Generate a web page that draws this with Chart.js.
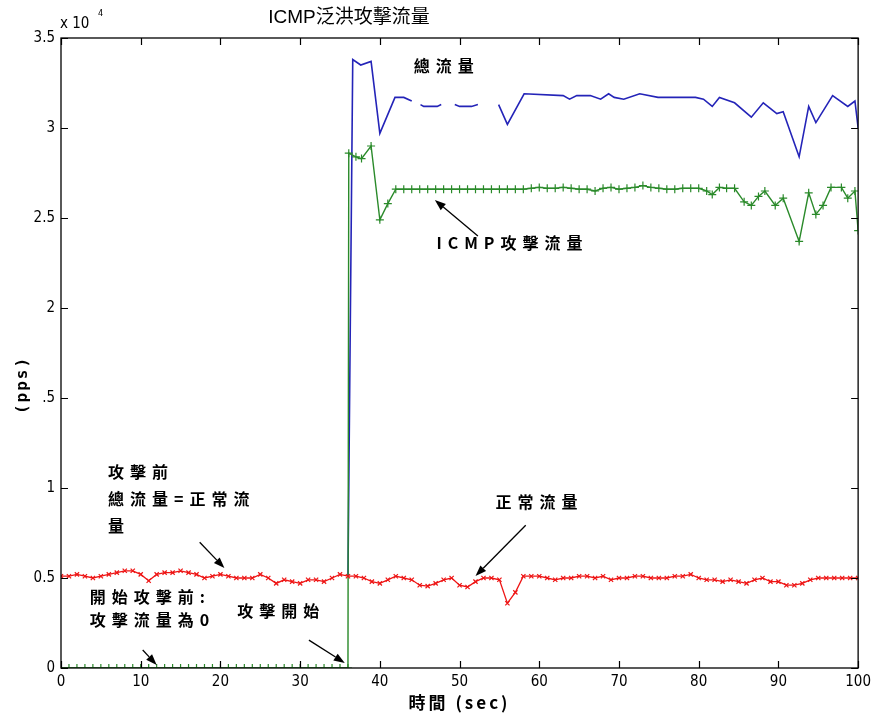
<!DOCTYPE html>
<html><head><meta charset="utf-8">
<script src="https://cdn.jsdelivr.net/npm/chart.js@4.4.1/dist/chart.umd.min.js"></script>
<style>html,body{margin:0;padding:0;background:#fff}#wrap{width:876px;height:716px}</style>
</head><body><div id="wrap"><canvas id="c" width="876" height="716"></canvas></div>
<script>
// ---- texts ----
const chartTitle = 'ICMP泛洪攻擊流量';
const xTitle = '時間 (sec)';
const yTitle = '(pps)';
const yExponent = ['x 10', '4'];

// ---- ticks ----
const xTickValues = [0,10,20,30,40,50,60,70,80,90,100];
const yTickValues = [0,0.5,1,1.5,2,2.5,3,3.5];
const yTickLabels = ['0','0.5','1','1.5','2','2.5','3','3.5'];

// ---- series (values in units of 10^4 pps) ----
// 正常流量 (normal traffic)
const normalT = [0,1,2,3,4,5,6,7,8,9,10,11,12,13,14,15,16,17,18,19,20,21,22,23,24,25,26,27,28,29,30,31,32,33,34,35,36,37,38,39,40,41,42,43,44,45,46,47,48,49,50,51,52,53,54,55,56,57,58,59,60,61,62,63,64,65,66,67,68,69,70,71,72,73,74,75,76,77,78,79,80,81,82,83,84,85,86,87,88,89,90,91,92,93,94,95,96,97,98,99,100];
const normalV = [0.51,0.51,0.52,0.51,0.50,0.51,0.52,0.53,0.54,0.54,0.52,0.485,0.52,0.53,0.53,0.54,0.53,0.52,0.50,0.51,0.52,0.51,0.50,0.50,0.50,0.52,0.50,0.47,0.49,0.48,0.47,0.49,0.49,0.48,0.50,0.52,0.51,0.51,0.50,0.48,0.47,0.49,0.51,0.50,0.49,0.46,0.455,0.47,0.49,0.50,0.46,0.45,0.48,0.50,0.50,0.49,0.36,0.42,0.51,0.51,0.51,0.50,0.49,0.50,0.50,0.51,0.51,0.50,0.51,0.49,0.50,0.50,0.51,0.51,0.50,0.50,0.50,0.51,0.51,0.52,0.50,0.49,0.49,0.48,0.49,0.48,0.47,0.49,0.50,0.48,0.48,0.46,0.46,0.47,0.49,0.50,0.50,0.50,0.50,0.50,0.50];

// ICMP攻擊流量 (attack traffic)
const attackT = [0,1,2,3,4,5,6,7,8,9,10,11,12,13,14,15,16,17,18,19,20,21,22,23,24,25,26,27,28,29,30,31,32,33,34,35,36,36.1,37,37.7,38.9,40,41,42,43,44,45,46,47,48,49,50,51,52,53,54,55,56,57,58,59,60,61,62,63,64,65,66,67,68,69,70,71,72,73,74,75,76,77,78,79,80,81,81.7,82.6,83.5,84.5,85.7,86.6,87.5,88.3,89.6,90.6,92.6,93.8,94.7,95.6,96.6,97.9,98.7,99.6,100];
const attackV = [0,0,0,0,0,0,0,0,0,0,0,0,0,0,0,0,0,0,0,0,0,0,0,0,0,0,0,0,0,0,0,0,0,0,0,0,0,2.86,2.84,2.83,2.90,2.49,2.58,2.66,2.66,2.66,2.66,2.66,2.66,2.66,2.66,2.66,2.66,2.66,2.66,2.66,2.66,2.66,2.66,2.66,2.665,2.67,2.665,2.665,2.67,2.665,2.66,2.66,2.65,2.665,2.67,2.66,2.665,2.67,2.68,2.67,2.665,2.66,2.66,2.665,2.665,2.665,2.65,2.63,2.67,2.665,2.665,2.59,2.57,2.62,2.65,2.57,2.61,2.37,2.64,2.52,2.57,2.67,2.67,2.61,2.65,2.43];

// 總流量 (total traffic) – null marks gaps in the trace
const totalT = [36,36.6,37.6,38.9,40,41.9,43,44,44.5,45.1,45.5,47.2,47.7,48.5,49.4,50,51.5,52.3,53.5,54.9,56,58.1,63,63.8,64.7,66.4,67.7,68.7,69.4,70.6,72.6,74.9,79.6,80.6,81.7,82.6,84.5,86.6,88.1,89.8,90.6,92.6,93.8,94.7,96.8,98.7,99.6,100];
const totalV = [0.51,3.38,3.35,3.37,2.97,3.17,3.17,3.15,null,3.13,3.12,3.12,3.13,null,3.13,3.12,3.12,3.13,null,3.13,3.02,3.19,3.18,3.16,3.18,3.18,3.16,3.19,3.17,3.16,3.19,3.17,3.17,3.16,3.12,3.17,3.14,3.06,3.14,3.08,3.09,2.84,3.12,3.03,3.18,3.12,3.15,3.0];

// ---- annotations (data coordinates) ----
const noteTexts = ['總流量','ICMP攻擊流量','攻擊前','總流量=正常流','量','開始攻擊前:','攻擊流量為0','攻擊開始','正常流量'];
const noteX = [44.25,47.1,5.9,5.9,5.9,3.6,3.6,22.1,54.5];
const noteY = [3.345,2.36,1.087,0.937,0.788,0.394,0.266,0.316,0.92];
// arrows: tail -> head
const arrowFromX = [52.3,17.4,10.25,31.1,58.3];
const arrowFromY = [2.40,0.699,0.10,0.155,0.793];
const arrowToX   = [46.9,20.5,12.0,35.6,52.0];
const arrowToY   = [2.60,0.555,0.017,0.028,0.511];

const RED = '#ee1515', GREEN = '#2a8a2a', BLUE = '#2424b8';
const tickFont = {family:"'Liberation Sans Narrow','DejaVu Sans Condensed',sans-serif", size:15};

function pts(xs, ys){ return xs.map((x,i)=>({x:x, y:ys[i]})); }

const overlay = {
  id:'overlay',
  afterDraw(chart){
    const ctx = chart.ctx, a = chart.chartArea, xs = chart.scales.x, ys = chart.scales.y;
    ctx.save();
    // box
    ctx.strokeStyle = '#000'; ctx.lineWidth = 1.3;
    ctx.strokeRect(a.left, a.top, a.right-a.left, a.bottom-a.top);
    // inward ticks
    ctx.beginPath();
    xTickValues.forEach(v=>{
      const px = Math.round(xs.getPixelForValue(v))+0.5;
      ctx.moveTo(px, a.bottom); ctx.lineTo(px, a.bottom-7);
      ctx.moveTo(px, a.top); ctx.lineTo(px, a.top+7);
    });
    yTickValues.forEach(v=>{
      const py = Math.round(ys.getPixelForValue(v))+0.5;
      ctx.moveTo(a.left, py); ctx.lineTo(a.left+7, py);
      ctx.moveTo(a.right, py); ctx.lineTo(a.right-7, py);
    });
    ctx.lineWidth = 1.2; ctx.stroke();

    ctx.fillStyle = '#000';
    // title
    ctx.font = "19px 'Liberation Sans','Noto Sans CJK TC',sans-serif";
    ctx.textAlign = 'center'; ctx.textBaseline = 'middle';
    ctx.fillText(chartTitle, 349, 18);
    // exponent
    ctx.textAlign = 'left';
    ctx.font = "15px 'Liberation Sans Narrow','DejaVu Sans Condensed',sans-serif";
    ctx.fillText(yExponent[0], 60, 24);
    ctx.font = "9px 'Liberation Sans Narrow','DejaVu Sans Condensed',sans-serif";
    ctx.fillText(yExponent[1], 98, 14);
    // x title
    ctx.font = "bold 17px 'Noto Sans CJK TC',sans-serif";
    ctx.textAlign = 'center';
    try { ctx.letterSpacing = '3px'; } catch(e){}
    ctx.fillText(xTitle, (a.left+a.right)/2, 703);
    // y title with white patch
    ctx.fillStyle = '#fff';
    ctx.fillRect(6, 352, 37, 64);
    ctx.fillStyle = '#000';
    ctx.save();
    ctx.translate(23, 385); ctx.rotate(-Math.PI/2);
    ctx.font = "bold 16px 'DejaVu Sans Mono',monospace";
    try { ctx.letterSpacing = '2px'; } catch(e){}
    ctx.textAlign = 'center'; ctx.textBaseline = 'middle';
    ctx.fillText(yTitle, 0, 0);
    ctx.restore();
    // notes
    ctx.font = "bold 16px 'Noto Sans CJK TC',sans-serif";
    ctx.textAlign = 'left'; ctx.textBaseline = 'middle';
    try { ctx.letterSpacing = '6px'; } catch(e){}
    noteTexts.forEach((t,i)=>{
      ctx.fillText(t, xs.getPixelForValue(noteX[i]), ys.getPixelForValue(noteY[i]));
    });
    try { ctx.letterSpacing = '0px'; } catch(e){}
    // arrows
    ctx.strokeStyle = '#000'; ctx.lineWidth = 1.3;
    arrowFromX.forEach((fx,i)=>{
      const x1 = xs.getPixelForValue(fx), y1 = ys.getPixelForValue(arrowFromY[i]);
      const x2 = xs.getPixelForValue(arrowToX[i]), y2 = ys.getPixelForValue(arrowToY[i]);
      const ang = Math.atan2(y2-y1, x2-x1), L = 11, W = 4;
      const bx = x2 - L*Math.cos(ang), by = y2 - L*Math.sin(ang);
      ctx.beginPath(); ctx.moveTo(x1,y1); ctx.lineTo(bx,by); ctx.stroke();
      ctx.beginPath();
      ctx.moveTo(x2,y2);
      ctx.lineTo(bx + W*Math.sin(ang), by - W*Math.cos(ang));
      ctx.lineTo(bx - W*Math.sin(ang), by + W*Math.cos(ang));
      ctx.closePath(); ctx.fill();
    });
    ctx.restore();
  }
};

new Chart(document.getElementById('c'), {
  type:'line',
  data:{ datasets:[
    {label:'正常流量', data:pts(normalT, normalV), borderColor:RED, backgroundColor:RED, borderWidth:1.3,
     pointStyle:'crossRot', pointRadius:3, pointBorderColor:RED, pointBorderWidth:1.2, tension:0, fill:false},
    {label:'ICMP攻擊流量', data:pts(attackT, attackV), borderColor:GREEN, backgroundColor:GREEN, borderWidth:1.4,
     pointStyle:'cross', pointRadius:4, pointBorderColor:GREEN, pointBorderWidth:1.2, tension:0, fill:false},
    {label:'總流量', data:pts(totalT, totalV), borderColor:BLUE, backgroundColor:BLUE, borderWidth:1.6,
     pointRadius:0, spanGaps:false, tension:0, fill:false}
  ]},
  options:{
    responsive:false, animation:false, devicePixelRatio:1,
    layout:{padding:{top:38, right:15, left:0, bottom:0}},
    plugins:{legend:{display:false}, tooltip:{enabled:false}, title:{display:false}},
    scales:{
      x:{type:'linear', min:0, max:100,
         afterBuildTicks:s=>{ s.ticks = xTickValues.map(v=>({value:v})); },
         grid:{display:false, drawTicks:false}, border:{display:false},
         ticks:{padding:5, font:tickFont, color:'#000', maxRotation:0, autoSkip:false},
         afterFit:s=>{ s.height = 48; }},
      y:{type:'linear', min:0, max:3.5,
         afterBuildTicks:s=>{ s.ticks = yTickValues.map(v=>({value:v})); },
         grid:{display:false, drawTicks:false}, border:{display:false},
         ticks:{padding:6, font:tickFont, color:'#000', autoSkip:false,
                callback:(v)=> yTickLabels[yTickValues.indexOf(v)]},
         afterFit:s=>{ s.width = 61; }}
    }
  },
  plugins:[overlay]
});
</script></body></html>
